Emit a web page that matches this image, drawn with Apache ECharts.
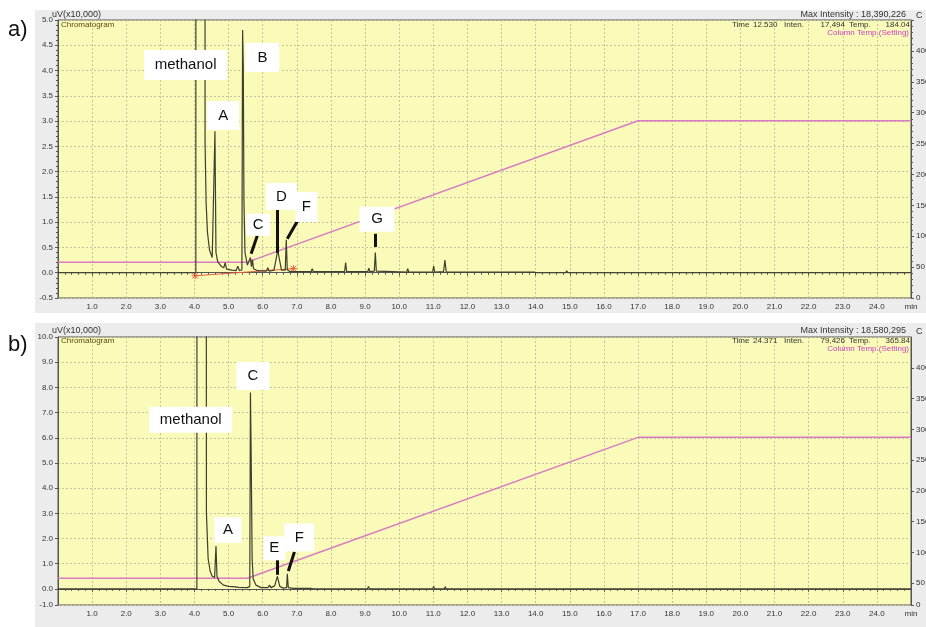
<!DOCTYPE html>
<html>
<head>
<meta charset="utf-8">
<script src="https://cdn.jsdelivr.net/npm/echarts@6.0.0/dist/echarts.min.js"></script>
<style>
html, body { margin: 0; padding: 0; background: #fff; }
#main { width: 926px; height: 627px; }
</style>
</head>
<body>
<div id="main"></div>
<script>
// chromatogram a) : [time (min), intensity (uV x10,000)]
var traceA = [
  [0, 0.0], [4.04, 0.0], [4.05, 60], [4.30, 60], [4.31, 2.6], [4.34, 1.4], [4.38, 0.8],
  [4.44, 0.45], [4.52, 0.3], [4.57, 0.28], [4.60, 2.8], [4.63, 0.4], [4.68, 0.22],
  [4.78, 0.13], [4.86, 0.1], [4.90, 0.2], [4.94, 0.07], [5.10, 0.05], [5.22, 0.04],
  [5.27, 0.13], [5.32, 0.04], [5.39, 0.06], [5.41, 4.8], [5.43, 4.1], [5.45, 1.4],
  [5.48, 0.4], [5.55, 0.15], [5.60, 0.18], [5.64, 0.3], [5.67, 0.12], [5.70, 0.26],
  [5.73, 0.08], [5.85, 0.04], [6.10, 0.03], [6.15, 0.1], [6.19, 0.03], [6.33, 0.05],
  [6.40, 0.3], [6.44, 0.45], [6.48, 0.3], [6.55, 0.05], [6.66, 0.05], [6.69, 0.65],
  [6.72, 0.06], [6.80, 0.02], [7.42, 0.02], [7.45, 0.08], [7.48, 0.02], [8.40, 0.02],
  [8.43, 0.2], [8.46, 0.02], [9.08, 0.02], [9.11, 0.09], [9.14, 0.02], [9.27, 0.03],
  [9.30, 0.4], [9.33, 0.03], [10.22, 0.01], [10.25, 0.08], [10.28, 0.01], [10.98, 0.01],
  [11.01, 0.13], [11.04, 0.01], [11.30, 0.02], [11.34, 0.25], [11.38, 0.01],
  [13.98, 0.01], [14.01, 0.04], [14.04, 0.0], [14.88, 0.0], [14.91, 0.04], [14.94, 0.0],
  [25, 0.0]
];
// chromatogram b)
var traceB = [
  [0, 0.0], [4.07, 0.0], [4.08, 60], [4.33, 60], [4.35, 3.0], [4.40, 1.2], [4.46, 0.7],
  [4.52, 0.5], [4.59, 0.45], [4.63, 1.7], [4.66, 0.5], [4.72, 0.3], [4.85, 0.15],
  [5.00, 0.1], [5.20, 0.08], [5.25, 0.15], [5.30, 0.06], [5.55, 0.05], [5.62, 0.1],
  [5.64, 7.8], [5.66, 5.5], [5.69, 1.2], [5.72, 0.4], [5.80, 0.15], [5.95, 0.05],
  [6.15, 0.05], [6.20, 0.15], [6.24, 0.05], [6.35, 0.12], [6.43, 0.5], [6.50, 0.1],
  [6.60, 0.03], [6.70, 0.05], [6.72, 0.6], [6.75, 0.05], [6.90, 0.02], [7.42, 0.02],
  [7.45, 0.06], [7.48, 0.0], [9.07, 0.0], [9.10, 0.1], [9.13, 0.0], [10.98, 0.0],
  [11.01, 0.1], [11.04, 0.0], [11.32, 0.0], [11.35, 0.08], [11.38, 0.0], [25, 0.0]
];
// column temperature program (setting)
var tempTime = [0, 5.55, 17.0, 25];
var tempValue = [58, 58, 287, 287];
// integration baseline in a)
var baseA = [[4.02, -0.06], [6.90, 0.08]];

var labelsA = [
  { name: 'methanol', coord: [3.74, 4.11], size: [83, 30] },
  { name: 'B', coord: [5.99, 4.26], size: [34, 29] },
  { name: 'A', coord: [4.84, 3.11], size: [32, 29] },
  { name: 'C', coord: [5.87, 0.95], size: [24, 22] },
  { name: 'D', coord: [6.55, 1.51], size: [31, 27] },
  { name: 'F', coord: [7.28, 1.30], size: [22, 30] },
  { name: 'G', coord: [9.35, 1.06], size: [35, 25] }
];
var pointersA = [
  [[5.84, 0.73], [5.66, 0.375]],
  [[6.43, 1.245], [6.43, 0.395]],
  [[7.04, 1.05], [6.72, 0.67]],
  [[9.30, 0.77], [9.30, 0.51]]
];
var labelsB = [
  { name: 'methanol', coord: [3.89, 6.71], size: [83, 26] },
  { name: 'C', coord: [5.71, 8.45], size: [33, 28] },
  { name: 'A', coord: [4.98, 2.34], size: [27, 26] },
  { name: 'F', coord: [7.07, 2.04], size: [30, 28] },
  { name: 'E', coord: [6.34, 1.61], size: [22, 24] }
];
var pointersB = [
  [[6.43, 1.15], [6.43, 0.56]],
  [[6.93, 1.47], [6.75, 0.71]]
];

var leftTicksB = [-0.64, 0, 1, 2, 3, 4, 5, 6, 7, 8, 9, 10];
var rightTicksB = [14.6, 50, 100, 150, 200, 250, 300, 350, 400];

var FONT = 'Liberation Sans';
var yellow = '#fafab9';
var gridLine = { show: true, lineStyle: { color: '#c4c4a2', type: [2, 2], width: 1 } };
var axisLine = { show: true, lineStyle: { color: '#555' } };
var smallLabel = { fontSize: 8, color: '#333', fontFamily: FONT, margin: 5 };

function xAxis(idx) {
  return {
    type: 'value', gridIndex: idx, min: 0, max: 25, interval: 1,
    axisLine: axisLine,
    axisTick: { length: 3, lineStyle: { color: '#555' } },
    minorTick: { show: true, splitNumber: 5, length: 2, lineStyle: { color: '#555' } },
    splitLine: gridLine,
    axisLabel: Object.assign({}, smallLabel, {
      showMinLabel: true, showMaxLabel: true,
      formatter: function (v) { return v === 0 ? '' : (v === 25 ? 'min' : v.toFixed(1)); }
    })
  };
}

function annot(list) {
  return list.map(function (d) {
    return { name: d.name, coord: d.coord, symbolSize: d.size };
  });
}
function pointers(list) {
  return list.map(function (p) {
    return [{ coord: p[0] }, { coord: p[1] }];
  });
}

var markPointStyle = {
  symbol: 'rect', silent: true,
  itemStyle: { color: '#fff' },
  label: { show: true, position: 'inside', formatter: '{b}', color: '#111', fontSize: 15, fontFamily: FONT }
};
var markLineStyle = {
  symbol: ['none', 'none'], silent: true,
  lineStyle: { color: '#111', width: 3, type: 'solid' },
  label: { show: false }
};

function headerTexts(dy, maxInt, time, inten, temp) {
  var base = { fontFamily: FONT, fontSize: 8, fill: '#333' };
  function t(x, y, text, extra) {
    return { type: 'text', z: 100, style: Object.assign({}, base, { x: x, y: y + dy, text: text, verticalAlign: 'middle' }, extra || {}) };
  }
  return [
    t(52, 15, 'uV(x10,000)', { fontSize: 9 }),
    t(61, 25, 'Chromatogram', { fill: '#5a4a10' }),
    t(906, 15, 'Max Intensity : ' + maxInt, { align: 'right', fontSize: 9 }),
    t(916, 16, 'C', { fontSize: 9 }),
    t(732, 25, 'Time'),
    t(753, 25, time),
    t(784, 25, 'Inten.'),
    t(845, 25, inten, { align: 'right' }),
    t(849, 25, 'Temp.'),
    t(910, 25, temp, { align: 'right' }),
    t(909, 33, 'Column Temp.(Setting)', { align: 'right', fill: '#d040c0' })
  ];
}

var chart = echarts.init(document.getElementById('main'));
var option = {
  animation: false,
  backgroundColor: '#fff',
  graphic: [
    { type: 'rect', z: -10, shape: { x: 35, y: 10, width: 891, height: 303 }, style: { fill: '#ececec' } },
    { type: 'rect', z: -10, shape: { x: 35, y: 323, width: 891, height: 304 }, style: { fill: '#ececec' } },
    { type: 'text', style: { x: 8, y: 30, text: 'a)', fontSize: 22, fontFamily: FONT, fill: '#111', verticalAlign: 'middle' } },
    { type: 'text', style: { x: 8, y: 345, text: 'b)', fontSize: 22, fontFamily: FONT, fill: '#111', verticalAlign: 'middle' } }
  ].concat(
    headerTexts(0, '18,390,226', '12.530', '17,494', '184.04'),
    headerTexts(316, '18,580,295', '24.371', '79,426', '365.84')
  ),
  grid: [
    { left: 58, right: 15, top: 20, height: 278, show: true, backgroundColor: yellow, borderColor: '#555', borderWidth: 1, containLabel: false, outerBoundsMode: 'none' },
    { left: 58, right: 15, top: 337, height: 268, show: true, backgroundColor: yellow, borderColor: '#555', borderWidth: 1, containLabel: false, outerBoundsMode: 'none' }
  ],
  xAxis: [xAxis(0), xAxis(1)],
  yAxis: [
    {
      type: 'value', gridIndex: 0, min: -0.5, max: 5, interval: 0.5,
      axisLine: axisLine,
      axisTick: { show: true, length: 3, lineStyle: { color: '#555' } },
      minorTick: { show: true, splitNumber: 5, length: 2, lineStyle: { color: '#555' } },
      splitLine: gridLine,
      axisLabel: Object.assign({}, smallLabel, { formatter: function (v) { return v.toFixed(1); } })
    },
    {
      type: 'value', gridIndex: 0, position: 'right', min: 0, max: 450, interval: 50,
      axisLine: axisLine,
      axisTick: { show: true, length: 3, lineStyle: { color: '#555' } },
      minorTick: { show: true, splitNumber: 5, length: 2, lineStyle: { color: '#555' } },
      splitLine: { show: false },
      axisLabel: Object.assign({}, smallLabel, { showMaxLabel: false })
    },
    {
      type: 'value', gridIndex: 1, min: -0.64, max: 10,
      axisLine: axisLine,
      axisTick: { show: true, length: 3, customValues: leftTicksB, lineStyle: { color: '#555' } },
      splitLine: gridLine,
      axisLabel: Object.assign({}, smallLabel, {
        customValues: leftTicksB,
        formatter: function (v) { return v < 0 ? '-1.0' : v.toFixed(1); }
      })
    },
    {
      type: 'value', gridIndex: 1, position: 'right', min: 14.6, max: 450,
      axisLine: axisLine,
      axisTick: { show: true, length: 3, customValues: rightTicksB, lineStyle: { color: '#555' } },
      splitLine: { show: false },
      axisLabel: Object.assign({}, smallLabel, {
        customValues: rightTicksB,
        formatter: function (v) { return v < 20 ? '0' : String(v); }
      })
    }
  ],
  series: [
    {
      type: 'line', xAxisIndex: 0, yAxisIndex: 1, z: 3, symbol: 'none',
      data: tempTime.map(function (t, i) { return [t, tempValue[i]]; }),
      lineStyle: { color: '#d77bc2', width: 1.5 }
    },
    {
      type: 'line', xAxisIndex: 0, yAxisIndex: 0, z: 2,
      data: baseA, symbol: 'path://M0,-5L0,5M-5,0L5,0M-4,-4L4,4M-4,4L4,-4', symbolSize: 7,
      itemStyle: { color: '#e8603c', borderColor: '#e8603c', borderWidth: 1 },
      lineStyle: { color: '#e8603c', width: 1 }
    },
    {
      type: 'line', xAxisIndex: 0, yAxisIndex: 0, z: 4, symbol: 'none', clip: true,
      data: traceA,
      lineStyle: { color: '#3f3f2e', width: 1.2 },
      markPoint: Object.assign({ data: annot(labelsA) }, markPointStyle),
      markLine: Object.assign({ data: pointers(pointersA) }, markLineStyle)
    },
    {
      type: 'line', xAxisIndex: 1, yAxisIndex: 3, z: 3, symbol: 'none',
      data: tempTime.map(function (t, i) { return [t, tempValue[i]]; }),
      lineStyle: { color: '#d77bc2', width: 1.5 }
    },
    {
      type: 'line', xAxisIndex: 1, yAxisIndex: 2, z: 4, symbol: 'none', clip: true,
      data: traceB,
      lineStyle: { color: '#3f3f2e', width: 1.2 },
      markPoint: Object.assign({ data: annot(labelsB) }, markPointStyle),
      markLine: Object.assign({ data: pointers(pointersB) }, markLineStyle)
    }
  ]
};
chart.setOption(option);
</script>
</body>
</html>
